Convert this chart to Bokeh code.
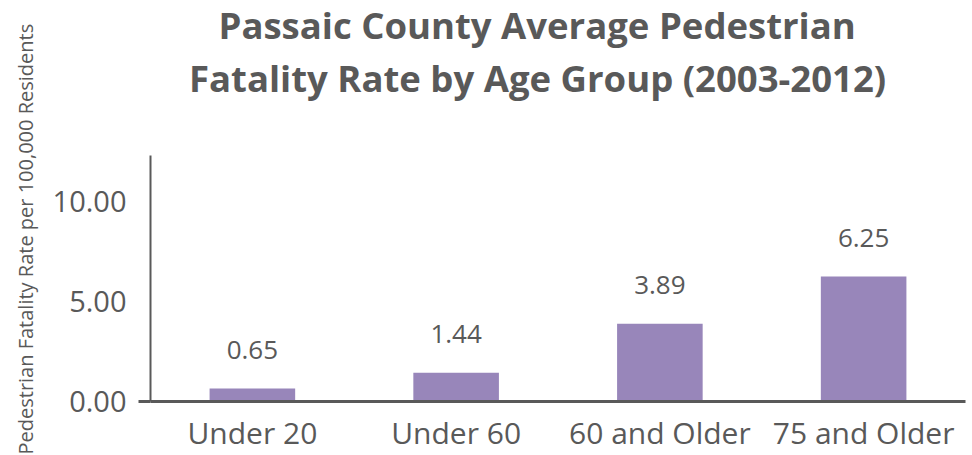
from bokeh.plotting import figure
from bokeh.models import (ColumnDataSource, FactorRange, Range1d, FixedTicker, NumeralTickFormatter,
                          Title, LinearAxis)
from bokeh.core.properties import value
from bokeh.embed import file_html
from bokeh.resources import INLINE

categories = ["Under 20", "Under 60", "60 and Older", "75 and Older"]
rates = [0.65, 1.44, 3.89, 6.25]
rate_labels = ["0.65", "1.44", "3.89", "6.25"]
y_ticks = [0, 5, 10]
title_lines = ["Passaic County Average Pedestrian", "Fatality Rate by Age Group (2003-2012)"]
y_label = "Pedestrian Fatality Rate per 100,000 Residents"

FONT = "Open Sans"
GREY = "#595959"

src = ColumnDataSource(dict(cat=categories, rate=rates, lab=rate_labels))

p = figure(x_range=FactorRange(*categories, range_padding=0), y_range=Range1d(0, 12.3),
           width=972, height=455, output_backend="svg", toolbar_location=None,
           y_axis_location=None,
           min_border_left=150, min_border_right=7, min_border_top=155, min_border_bottom=54)
p.title = None
p.outline_line_color = None
p.grid.grid_line_color = None
p.background_fill_color = "white"
p.border_fill_color = "white"

p.vbar(x="cat", top="rate", width=0.42, source=src, fill_color="#9886BA", line_color=None)
p.text(x="cat", y="rate", text="lab", source=src, text_align="center", text_baseline="alphabetic",
       y_offset=-39, text_font=value(FONT), text_font_size="26px", text_color=GREY)

# y axis: line, labels, and a short outward stub at 0 continuing the baseline
ya = LinearAxis(ticker=FixedTicker(ticks=y_ticks, minor_ticks=[0]),
                formatter=NumeralTickFormatter(format="0.00"),
                major_tick_line_color=None, major_tick_in=0, major_tick_out=0,
                minor_tick_line_color=GREY, minor_tick_line_width=3, minor_tick_in=0, minor_tick_out=12,
                axis_line_color=GREY, axis_line_width=2,
                major_label_text_font=FONT, major_label_text_font_size="29px",
                major_label_text_color=GREY, major_label_standoff=12)
p.add_layout(ya, "left")

p.add_layout(Title(text=y_label, align="left", vertical_align="middle", offset=-53,
                   text_font=FONT, text_font_style="normal", text_font_size="20px",
                   text_color=GREY, standoff=19), "left")

xa = p.xaxis[0]
xa.major_tick_line_color = None
xa.minor_tick_line_color = None
xa.axis_line_color = GREY
xa.axis_line_width = 3
xa.major_label_text_font = FONT
xa.major_label_text_font_size = "30px"
xa.major_label_text_color = GREY
xa.major_label_standoff = 4

# title: spacer closest to the plot area, then line 2, then line 1
p.add_layout(Title(text=" ", text_font_size="34px", standoff=1), "above")
title_offsets = [68, 38.5]
title_standoffs = [-22.8, 24]
for line, off, so in reversed(list(zip(title_lines, title_offsets, title_standoffs))):
    p.add_layout(Title(text=line, align="left", offset=off, text_font=FONT, text_font_style="bold",
                       text_font_size="36.5px", text_color=GREY, standoff=so), "above")

open("out.html", "w").write(file_html(p, INLINE))
